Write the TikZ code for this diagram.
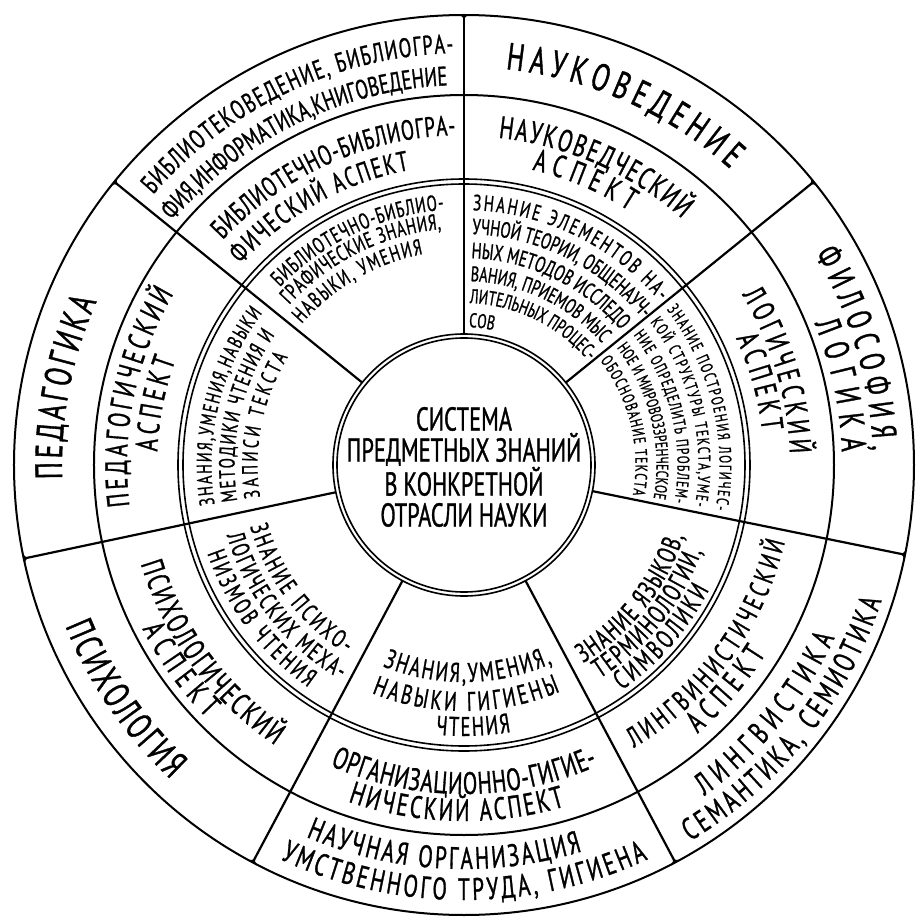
\documentclass[tikz,border=0pt]{standalone}
\usepackage{fontspec}
\setmainfont{PT Sans}[FakeStretch=0.68, FakeBold=1]
\usetikzlibrary{decorations.text}

\newcommand{\arctext}[6]{%
	\path[decorate, decoration={text along path, text align={#5}, text={|\fontsize{#4}{#4}\selectfont|#6}}]
		(#2:#1) arc[start angle=#2, end angle=#3, radius=#1];}

\tikzset{ring/.style={line width=1.6pt}, spoke/.style={line width=2.2pt}}

\begin{document}
\begin{tikzpicture}[x=1pt, y=1pt, line width=2pt]

		\useasboundingbox[fill=white] (-464,-456) rectangle (452,465);

		\draw[ring] (0,0) circle[radius=131] (0,0) circle[radius=127];
		\draw[ring] (0,0) circle[radius=286] (0,0) circle[radius=281];
		\draw (0,0) circle[radius=370];
		\draw (0,0) circle[radius=450];

		\foreach \a in {90,141,192,242,298,348.5,39} {
			\draw[spoke] (\a:131) -- (\a:450);
			\fill (\a:436) -- (\a:450) arc[start angle=\a, end angle=\a+1.8, radius=450] .. controls (\a:450) .. (\a:436);
			\fill (\a:436) -- (\a:450) arc[start angle=\a, end angle=\a-1.8, radius=450] .. controls (\a:450) .. (\a:436);
		}

		\node[font=\fontsize{33}{31}\selectfont, align=center] (core) at (0,-2) {СИСТЕМА\\ПРЕДМЕТНЫХ ЗНАНИЙ\\В КОНКРЕТНОЙ\\ОТРАСЛИ НАУКИ};

		\arctext{412}{139}{91.5}{27}{fit to path}{БИБЛИОТЕКОВЕДЕНИЕ, БИБЛИОГРА-}
		\arctext{380}{140}{92.5}{27}{fit to path}{ФИЯ,ИНФОРМАТИКА,КНИГОВЕДЕНИЕ}
		\arctext{398}{84}{48}{38}{fit to path}{НАУКОВЕДЕНИЕ}
		\arctext{409}{31}{2}{35}{fit to path}{ФИЛОСОФИЯ,}
		\arctext{378}{22}{2}{35}{fit to path}{ЛОГИКА}
		\arctext{409}{-54}{-25}{31}{fit to path}{ЛИНГВИСТИКА}
		\arctext{439}{-59}{-18}{31}{fit to path}{СЕМАНТИКА, СЕМИОТИКА}
		\arctext{404}{-113}{-73}{31}{fit to path}{НАУЧНАЯ ОРГАНИЗАЦИЯ}
		\arctext{435}{-115}{-65}{31}{fit to path}{УМСТВЕННОГО ТРУДА, ГИГИЕНА}
		\arctext{430}{202}{227}{38}{fit to path}{ПСИХОЛОГИЯ}
		\arctext{402}{182}{156}{38}{fit to path}{ПЕДАГОГИКА}

		\arctext{330}{137}{91.5}{28}{fit to path}{БИБЛИОТЕЧНО-БИБЛИОГРА-}
		\arctext{300}{138}{100.5}{28}{fit to path}{ФИЧЕСКИЙ АСПЕКТ}
		\arctext{329}{84}{48.5}{31}{fit to path}{НАУКОВЕДЧЕСКИЙ}
		\arctext{303}{77}{57}{31}{fit to path}{АСПЕКТ}
		\arctext{326}{31.5}{2}{31}{fit to path}{ЛОГИЧЕСКИЙ}
		\arctext{300}{25}{6.5}{31}{fit to path}{АСПЕКТ}
		\arctext{330}{-59}{-13.5}{28}{fit to path}{ЛИНГВИНИСТИЧЕСКИЙ}
		\arctext{356}{-49}{-32}{31}{fit to path}{АСПЕКТ}
		\arctext{329}{-114}{-66}{31}{fit to path}{ОРГАНИЗАЦИОННО-ГИГИЕ-}
		\arctext{356}{-109}{-73.5}{31}{fit to path}{НИЧЕСКИЙ АСПЕКТ}
		\arctext{338}{197}{236}{31}{fit to path}{ПСИХОЛОГИЧЕСКИЙ}
		\arctext{361}{207}{224.5}{31}{fit to path}{АСПЕКТ}
		\arctext{337}{187}{149.5}{31}{fit to path}{ПЕДАГОГИЧЕСКИЙ}
		\arctext{307}{177.5}{160}{31}{fit to path}{АСПЕКТ}

		\arctext{256}{136}{94.5}{22}{fit to path}{БИБЛИОТЕЧНО-БИБЛИО-}
		\arctext{237}{137.5}{95.5}{22}{fit to path}{ГРАФИЧЕСКИЕ ЗНАНИЯ,}
		\arctext{215}{139}{101}{22}{fit to path}{НАВЫКИ, УМЕНИЯ}

		\arctext{255}{88}{40}{22}{fit to path}{ЗНАНИЕ ЭЛЕМЕНТОВ НА-}
		\arctext{231}{88}{40}{22}{fit to path}{УЧНОЙ ТЕОРИИ, ОБЩЕНАУЧ-}
		\arctext{207}{88}{41}{22}{fit to path}{НЫХ МЕТОДОВ ИССЛЕДО-}
		\arctext{184}{88}{41}{21}{fit to path}{ВАНИЯ, ПРИЕМОВ МЫС-}
		\arctext{162}{88}{40}{20}{fit to path}{ЛИТЕЛЬНЫХ ПРОЦЕС-}
		\arctext{138}{88}{40}{20}{left}{СОВ}

		\arctext{255.5}{37.5}{-10}{17}{fit to path}{ЗНАНИЕ ПОСТРОЕНИЯ ЛОГИЧЕС-}
		\arctext{234.5}{37.5}{-10}{17}{fit to path}{КОЙ СТРУКТУРЫ ТЕКСТА,УМЕ-}
		\arctext{213.5}{37.5}{-10}{17}{fit to path}{НИЕ ОПРЕДЕЛИТЬ ПРОБЛЕМ-}
		\arctext{192.5}{37.5}{-10}{17}{fit to path}{НОЕ И МИРОВОЗЗРЕНЧЕСКОЕ}
		\arctext{171.5}{37.5}{-10}{17}{fit to path}{ОБОСНОВАНИЕ ТЕКСТА}

		\arctext{231}{-59}{-18}{27}{fit to path}{ЗНАНИЕ ЯЗЫКОВ,}
		\arctext{253}{-57.5}{-20}{27}{fit to path}{ТЕРМИНОЛОГИИ,}
		\arctext{275}{-55}{-27}{27}{fit to path}{СИМВОЛИКИ}

		\arctext{217}{-112}{-66}{27}{fit to path}{ЗНАНИЯ,УМЕНИЯ,}
		\arctext{246}{-112}{-67}{27}{fit to path}{НАВЫКИ ГИГИЕНЫ}
		\arctext{271}{-96}{-80}{27}{fit to path}{ЧТЕНИЯ}

		\arctext{222.5}{196}{238}{25}{fit to path}{ЗНАНИЕ ПСИХО-}
		\arctext{247.5}{196.5}{240}{25}{fit to path}{ЛОГИЧЕСКИХ МЕХА-}
		\arctext{271.5}{199}{235}{25}{fit to path}{НИЗМОВ ЧТЕНИЯ}

		\arctext{252.5}{189}{143}{21}{fit to path}{ЗНАНИЯ,УМЕНИЯ,НАВЫКИ}
		\arctext{229.5}{189}{145.5}{22}{fit to path}{МЕТОДИКИ ЧТЕНИЯ И}
		\arctext{206.5}{189}{148.5}{22}{fit to path}{ЗАПИСИ ТЕКСТА}

	\end{tikzpicture}
\end{document}
